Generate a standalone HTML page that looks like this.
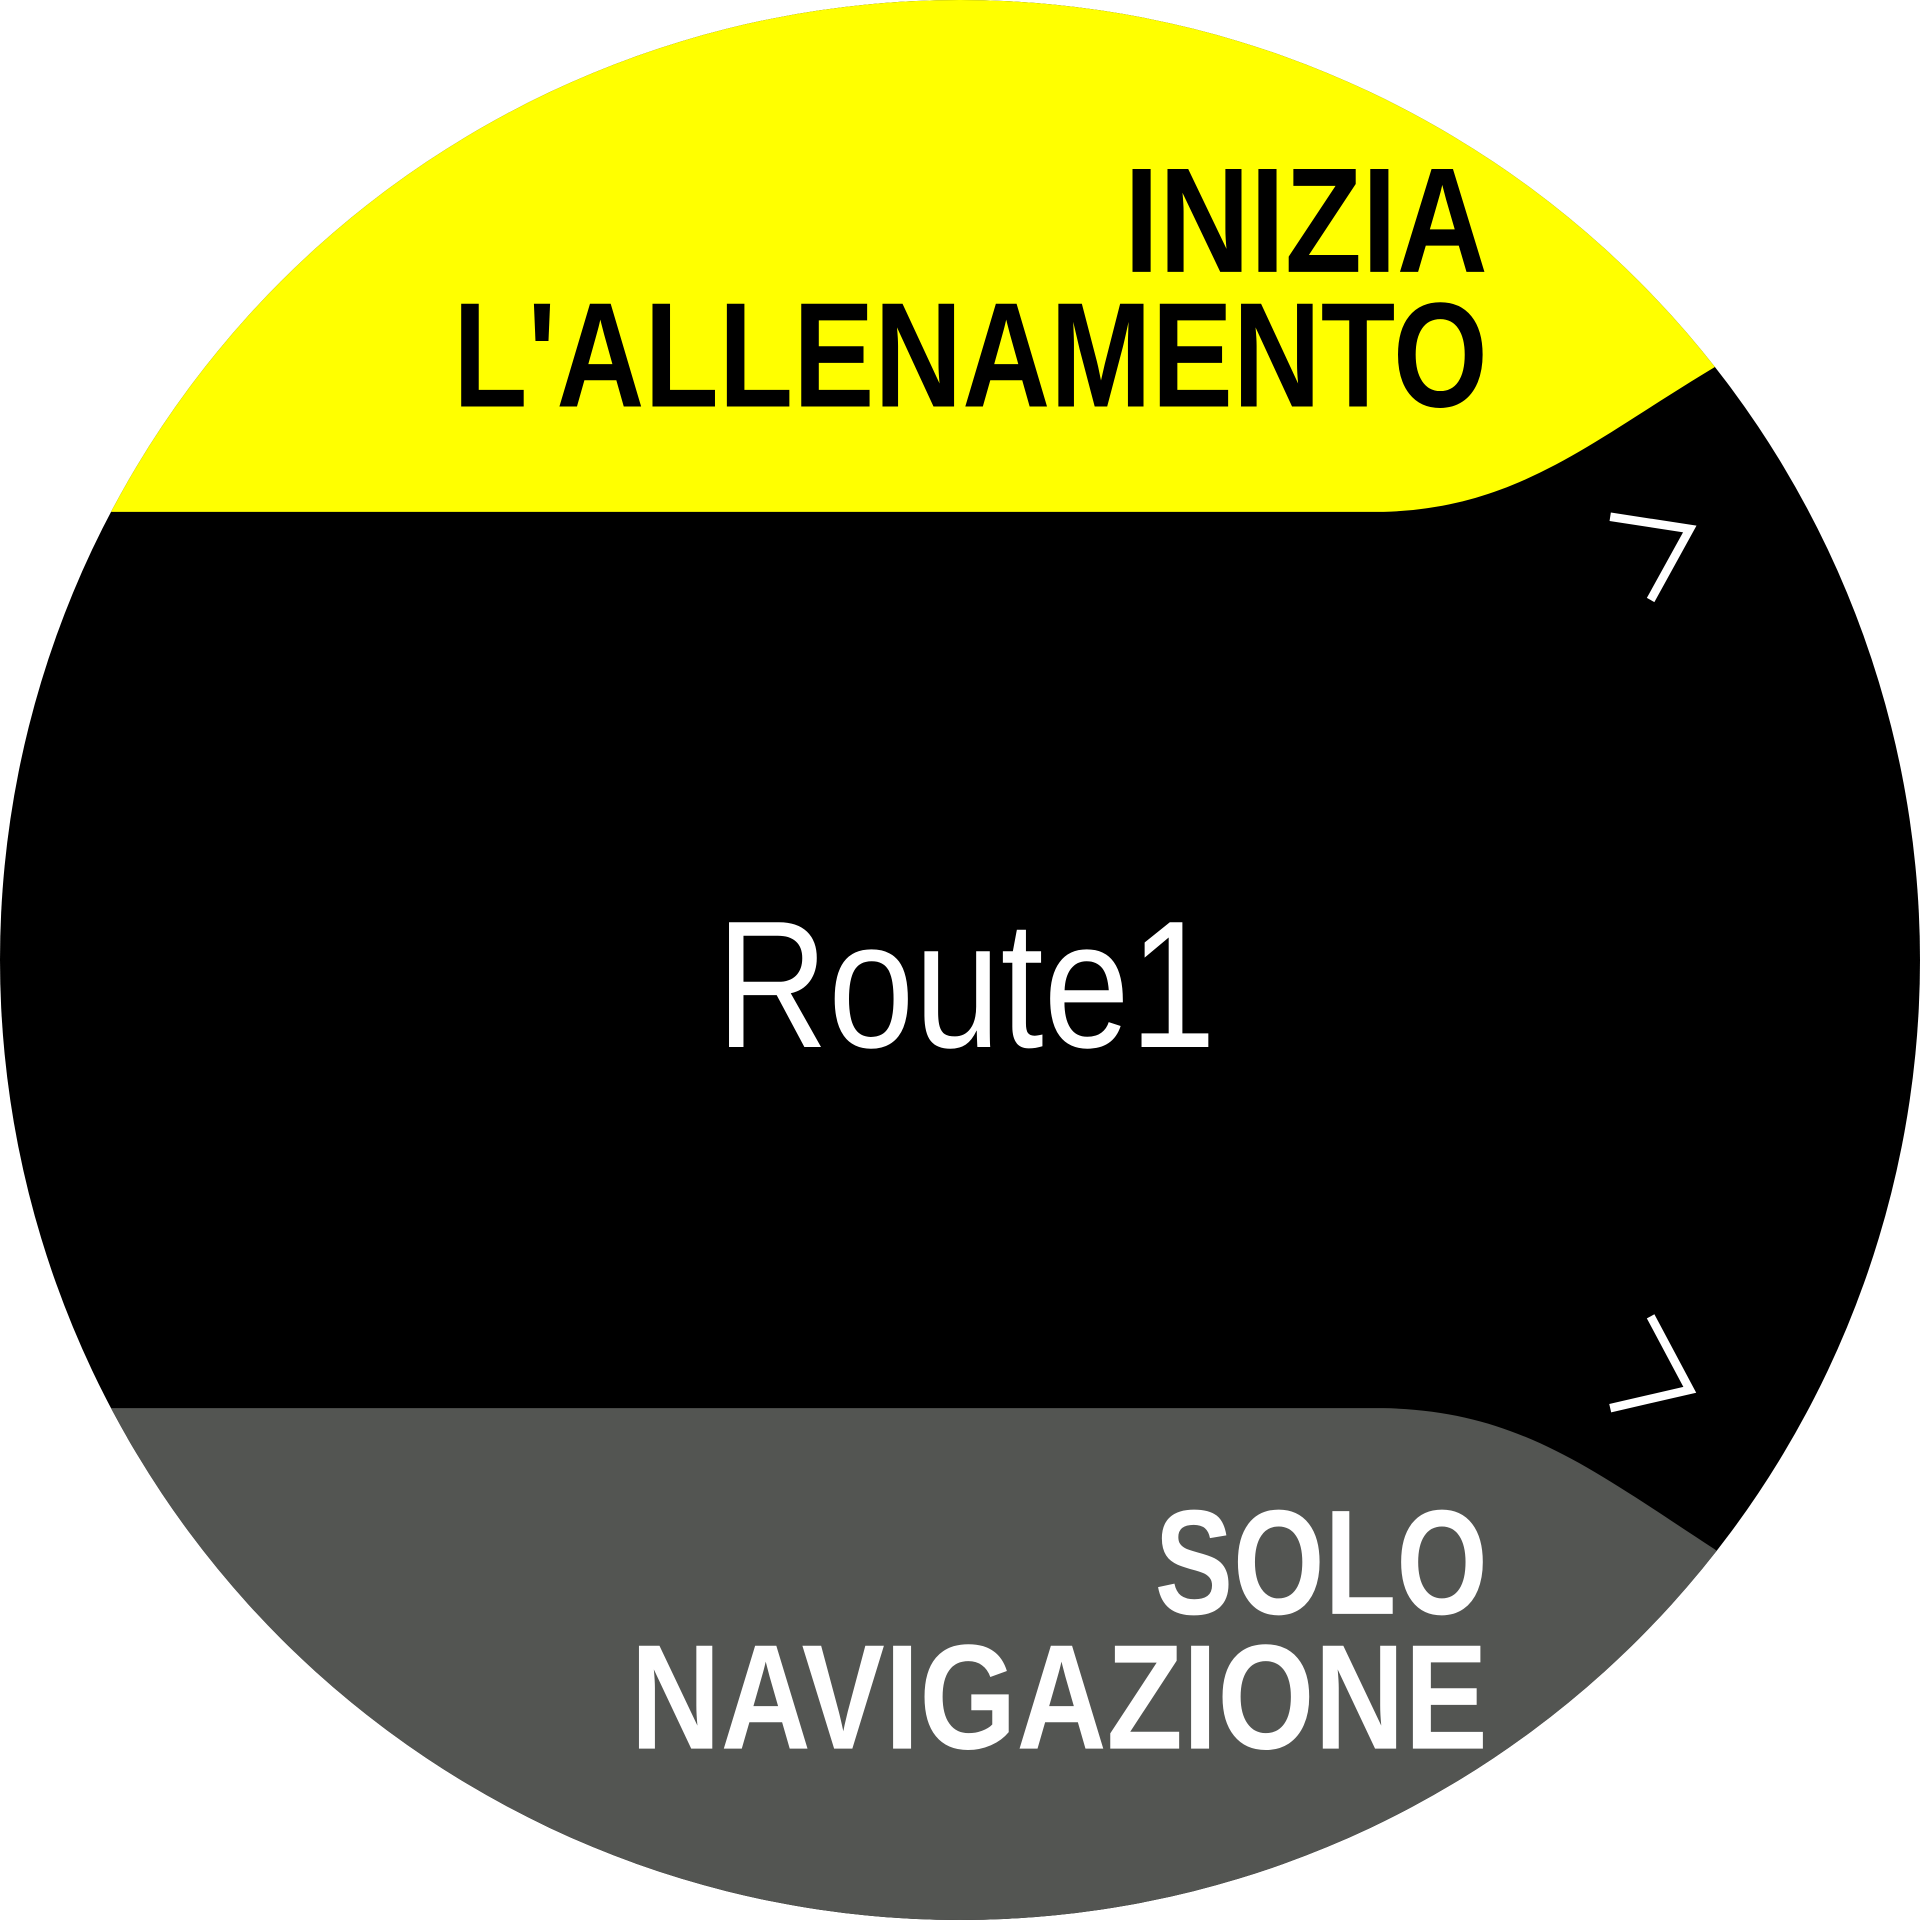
<!DOCTYPE html>
<html><head><style>html,body{margin:0;padding:0;background:#fff}svg{display:block}</style></head>
<body>
<svg width="1920" height="1920" viewBox="0 0 1568 1568" xmlns="http://www.w3.org/2000/svg">
<defs><clipPath id="c"><circle cx="784" cy="784" r="784"/></clipPath></defs>
<rect width="1568" height="1568" fill="#fff"/>
<g clip-path="url(#c)">
<rect width="1568" height="1568" fill="#000"/>
<path d="M0 0 L1568 0 L1568 180 L1400 300 C1300 360 1240 415 1130 418 L0 418 Z" fill="#ffff00"/>
<path d="M0 1568 L1568 1568 L1568 1390 L1400 1265 C1300 1200 1240 1152 1130 1150 L0 1150 Z" fill="#535552"/>
</g>
<g font-family="Liberation Sans, sans-serif" font-weight="bold" font-size="122">
<text x="918" y="222" textLength="297" lengthAdjust="spacingAndGlyphs" fill="#000">INIZIA</text>
<text x="370" y="332" textLength="845" lengthAdjust="spacingAndGlyphs" fill="#000">L'ALLENAMENTO</text>
<text x="943" y="1318" textLength="272" lengthAdjust="spacingAndGlyphs" fill="#fff">SOLO</text>
<text x="515" y="1428" textLength="700" lengthAdjust="spacingAndGlyphs" fill="#fff">NAVIGAZIONE</text>
</g>
<text x="585" y="855" font-family="Liberation Sans, sans-serif" font-size="148" textLength="408" lengthAdjust="spacingAndGlyphs" fill="#fff">Route1</text>
<polyline points="1315,422 1380,432 1348,490" fill="none" stroke="#fff" stroke-width="7"/>
<polyline points="1348,1075 1380,1135 1315,1150" fill="none" stroke="#fff" stroke-width="7"/>
</svg>
</body></html>
